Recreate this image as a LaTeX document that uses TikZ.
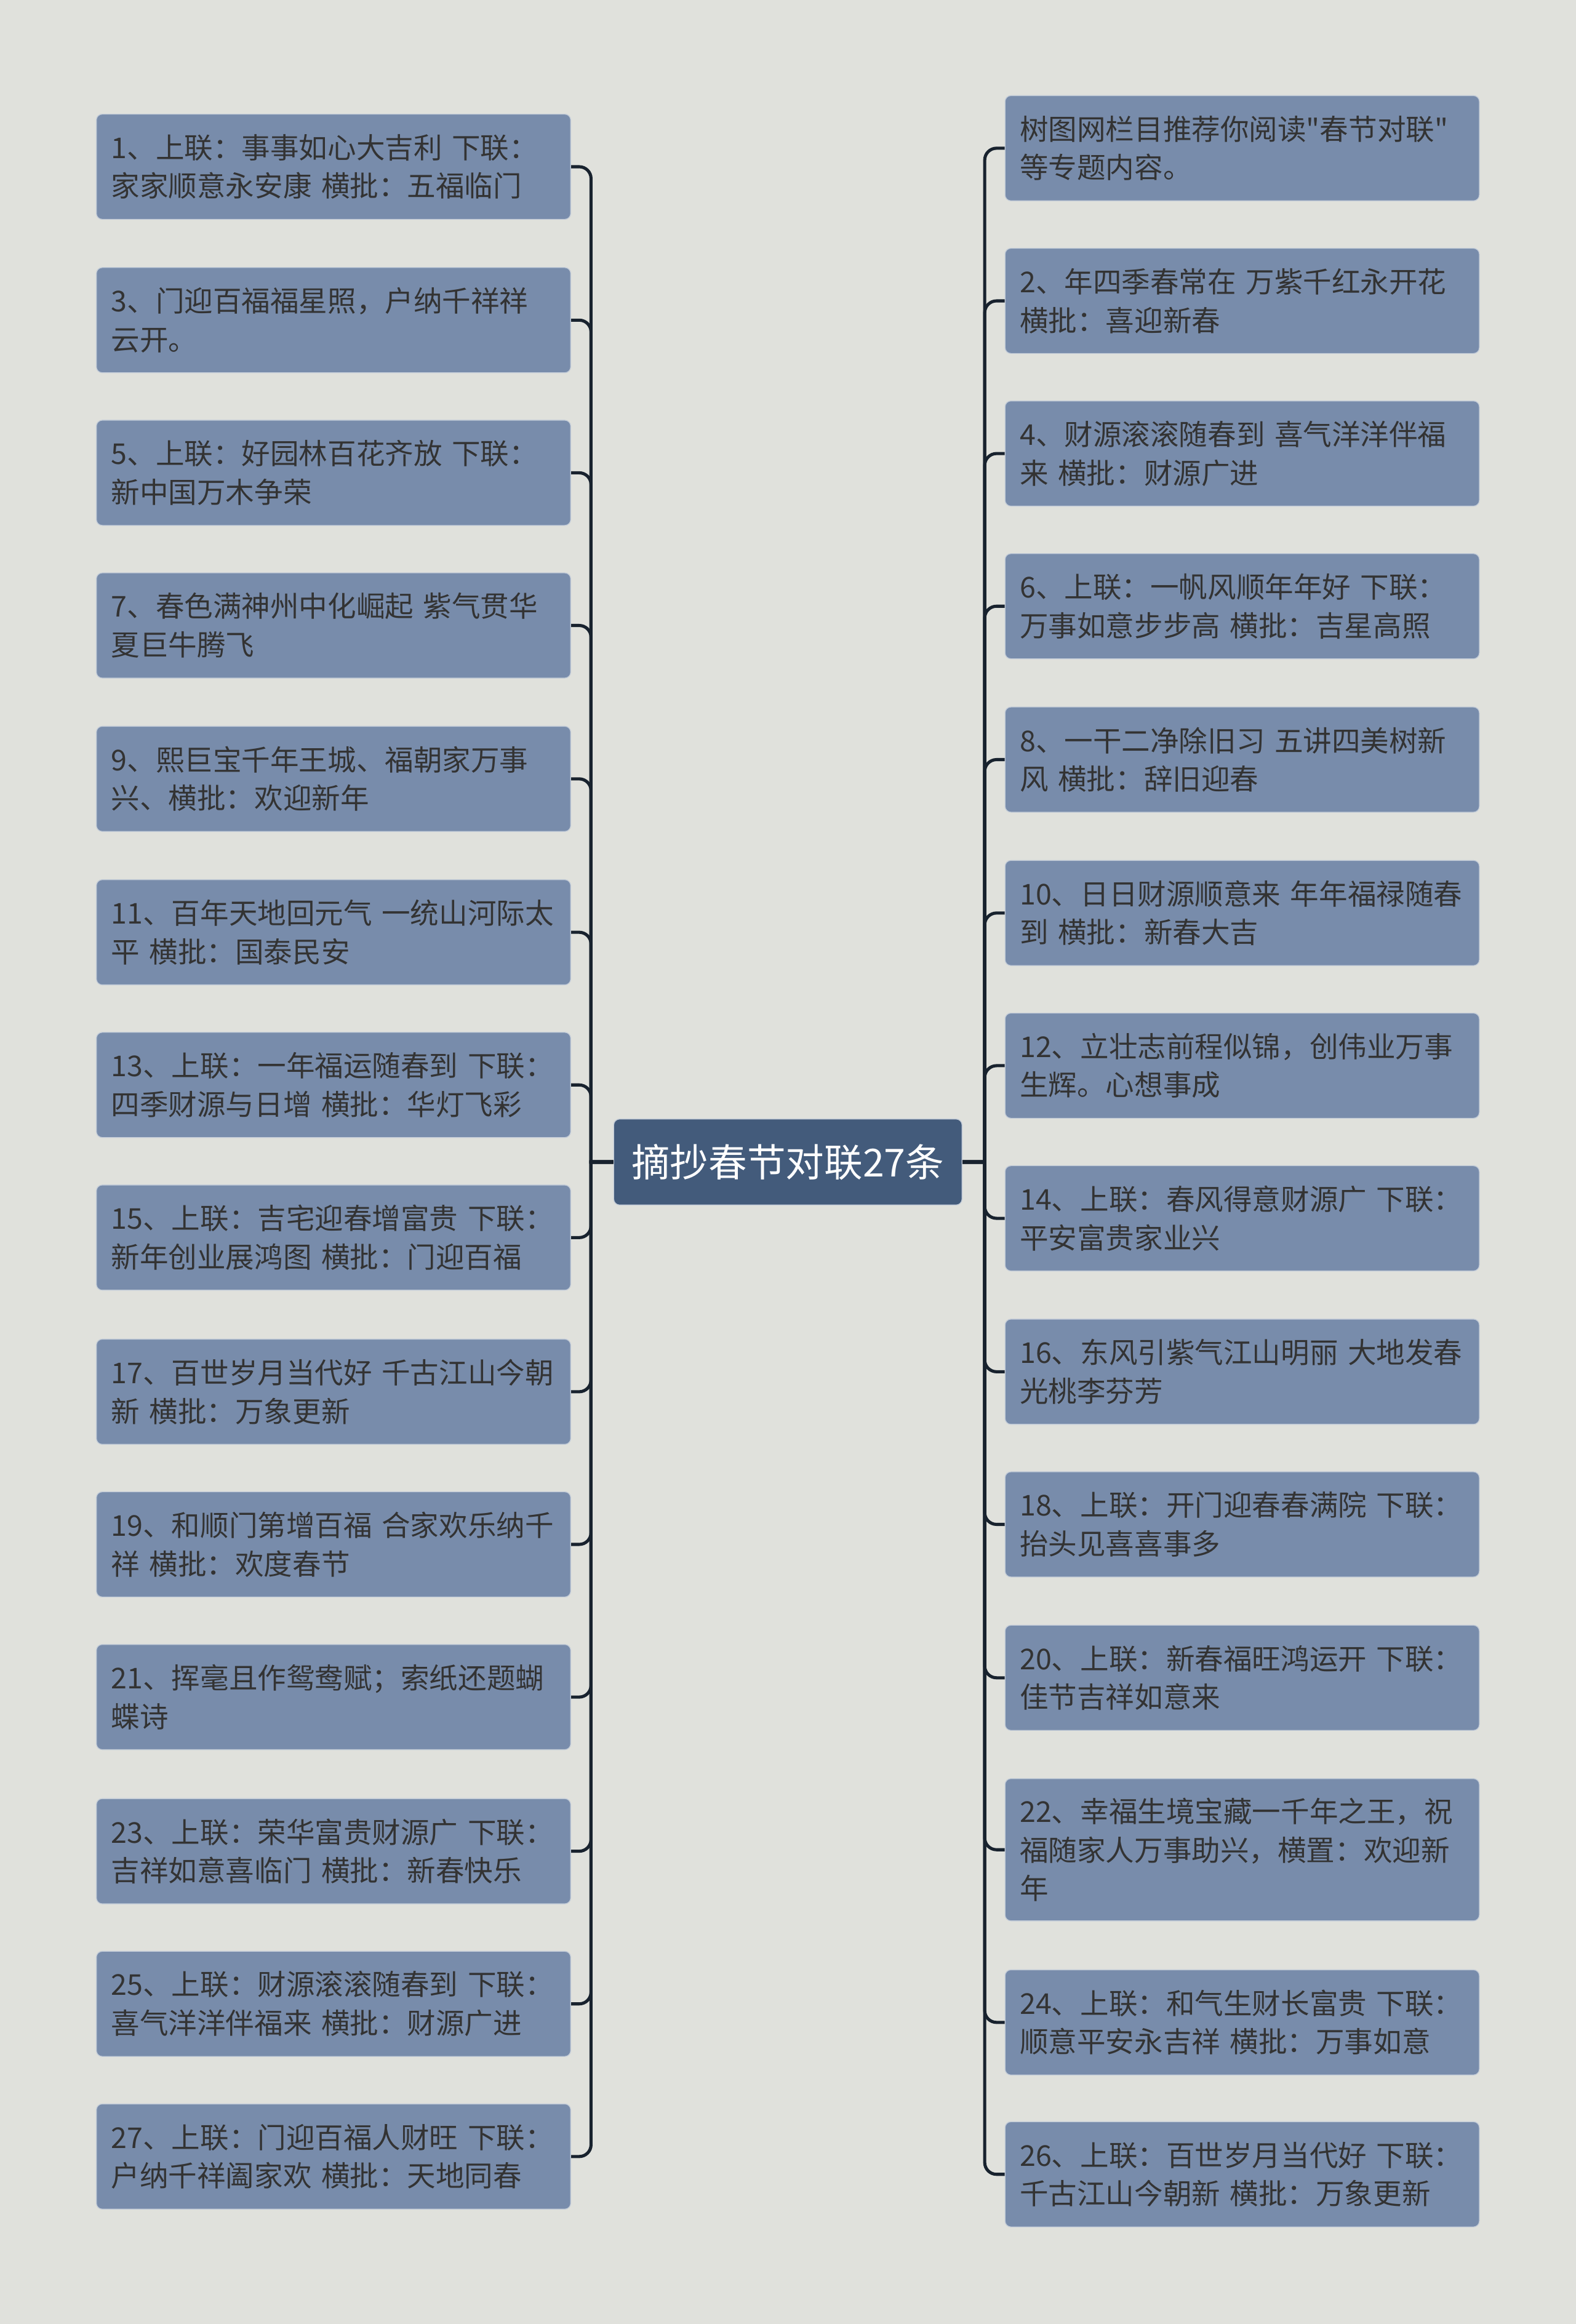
\documentclass[tikz,border=0pt]{standalone}
\usepackage{fontspec}
\setmainfont{Noto Sans CJK SC}[Ligatures=TeXOff]
\usepackage{tikz}

\definecolor{canvas}{HTML}{E0E1DC}
\definecolor{leaffill}{HTML}{788CAB}
\definecolor{leafedge}{HTML}{C3CCD8}
\definecolor{rootfill}{HTML}{435B7B}
\definecolor{inkdark}{HTML}{333333}
\definecolor{linkcol}{HTML}{18222E}

\begin{document}
\begin{tikzpicture}[
  leaf/.style={draw=leafedge,line width=0.8pt,fill=leaffill,rounded corners=0.2cm,
    align=left,text width=15cm,inner xsep=0.5cm,inner ysep=0.3cm,
    minimum height=3.55cm,text=inkdark,font=\fontsize{27.5pt}{37pt}\selectfont},
  root/.style={fill=rootfill,draw=leafedge,line width=0.8pt,rounded corners=0.2cm,
    minimum width=11.75cm,minimum height=2.9cm,text=white,
    font=\fontsize{37pt}{44pt}\selectfont},
  link/.style={draw=linkcol,line width=3pt}]
\fill[canvas] (0,0) rectangle (53.15,-78.4);
\useasboundingbox (0,0) rectangle (53.15,-78.4);
\node[root] (root) at (26.575,-39.2) {摘抄春节对联27条};
% left side
\node[leaf] (l1) at (11.25,-5.625)
  {1、上联：事事如心大吉利 下联：\\家家顺意永安康 横批：五福临门};
\node[leaf] (l3) at (11.25,-10.8)
  {3、门迎百福福星照，户纳千祥祥\\云开。};
\node[leaf] (l5) at (11.25,-15.95)
  {5、上联：好园林百花齐放 下联：\\新中国万木争荣};
\node[leaf] (l7) at (11.25,-21.1)
  {7、春色满神州中化崛起 紫气贯华\\夏巨牛腾飞};
\node[leaf] (l9) at (11.25,-26.275)
  {9、熙巨宝千年王城、福朝家万事\\兴、横批：欢迎新年};
\node[leaf] (l11) at (11.25,-31.45)
  {11、百年天地回元气 一统山河际太\\平 横批：国泰民安};
\node[leaf] (l13) at (11.25,-36.6)
  {13、上联：一年福运随春到 下联：\\四季财源与日增 横批：华灯飞彩};
\node[leaf] (l15) at (11.25,-41.75)
  {15、上联：吉宅迎春增富贵 下联：\\新年创业展鸿图 横批：门迎百福};
\node[leaf] (l17) at (11.25,-46.95)
  {17、百世岁月当代好 千古江山今朝\\新 横批：万象更新};
\node[leaf] (l19) at (11.25,-52.1)
  {19、和顺门第增百福 合家欢乐纳千\\祥 横批：欢度春节};
\node[leaf] (l21) at (11.25,-57.25)
  {21、挥毫且作鸳鸯赋；索纸还题蝴\\蝶诗};
\node[leaf] (l23) at (11.25,-62.45)
  {23、上联：荣华富贵财源广 下联：\\吉祥如意喜临门 横批：新春快乐};
\node[leaf] (l25) at (11.25,-67.6)
  {25、上联：财源滚滚随春到 下联：\\喜气洋洋伴福来 横批：财源广进};
\node[leaf] (l27) at (11.25,-72.75)
  {27、上联：门迎百福人财旺 下联：\\户纳千祥阖家欢 横批：天地同春};
% right side
\node[leaf] (r0) at (41.9,-5.0)
  {树图网栏目推荐你阅读"春节对联"\\等专题内容。};
\node[leaf] (r2) at (41.9,-10.15)
  {2、年四季春常在 万紫千红永开花\\横批：喜迎新春};
\node[leaf] (r4) at (41.9,-15.3)
  {4、财源滚滚随春到 喜气洋洋伴福\\来 横批：财源广进};
\node[leaf] (r6) at (41.9,-20.45)
  {6、上联：一帆风顺年年好 下联：\\万事如意步步高 横批：吉星高照};
\node[leaf] (r8) at (41.9,-25.625)
  {8、一干二净除旧习 五讲四美树新\\风 横批：辞旧迎春};
\node[leaf] (r10) at (41.9,-30.8)
  {10、日日财源顺意来 年年福禄随春\\到 横批：新春大吉};
\node[leaf] (r12) at (41.9,-35.95)
  {12、立壮志前程似锦，创伟业万事\\生辉。心想事成};
\node[leaf] (r14) at (41.9,-41.1)
  {14、上联：春风得意财源广 下联：\\平安富贵家业兴};
\node[leaf] (r16) at (41.9,-46.275)
  {16、东风引紫气江山明丽 大地发春\\光桃李芬芳};
\node[leaf] (r18) at (41.9,-51.425)
  {18、上联：开门迎春春满院 下联：\\抬头见喜喜事多};
\node[leaf] (r20) at (41.9,-56.6)
  {20、上联：新春福旺鸿运开 下联：\\佳节吉祥如意来};
\node[leaf,minimum height=4.8cm] (r22) at (41.9,-62.4)
  {22、幸福生境宝藏一千年之王，祝\\福随家人万事助兴，横置：欢迎新\\年};
\node[leaf] (r24) at (41.9,-68.225)
  {24、上联：和气生财长富贵 下联：\\顺意平安永吉祥 横批：万事如意};
\node[leaf] (r26) at (41.9,-73.35)
  {26、上联：百世岁月当代好 下联：\\千古江山今朝新 横批：万象更新};
% links
\foreach \n in {l1,l3,l5,l7,l9,l11,l13,l15,l17,l19,l21,l23,l25,l27}
  \draw[link] (root.west) -- ++(-0.75,0) [rounded corners=0.4cm] |- (\n.east);
\foreach \n in {r0,r2,r4,r6,r8,r10,r12,r14,r16,r18,r20,r22,r24,r26}
  \draw[link] (root.east) -- ++(0.75,0) [rounded corners=0.4cm] |- (\n.west);
\end{tikzpicture}
\end{document}
